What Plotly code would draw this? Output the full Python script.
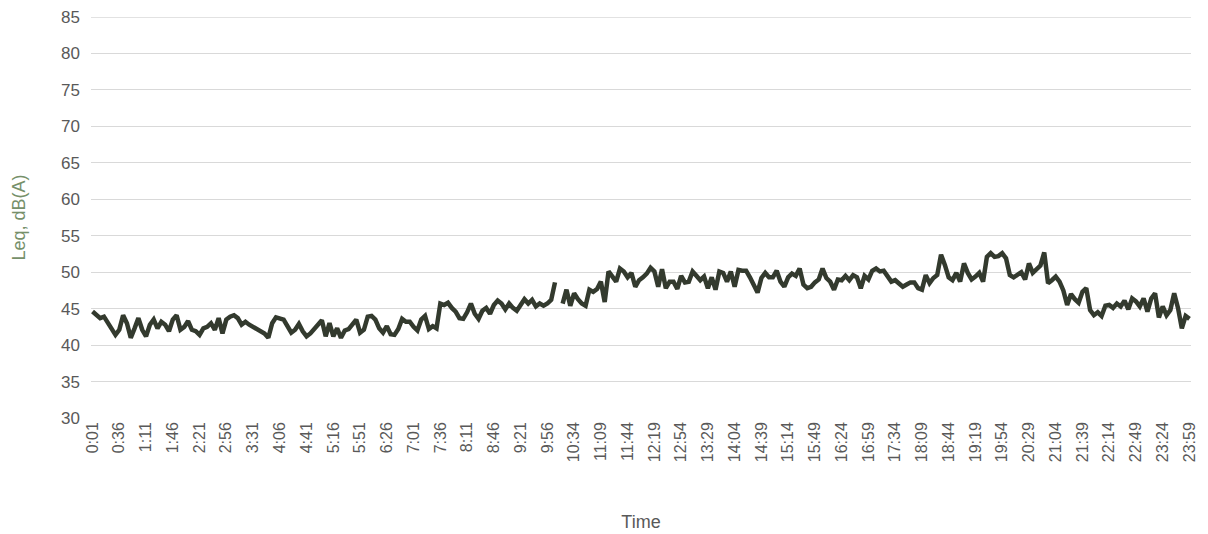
import plotly.graph_objects as go

# tick labels shown on the time axis (every 7th reading)
tick_labels = ["0:01", "0:36", "1:11", "1:46", "2:21", "2:56", "3:31", "4:06", "4:41",
               "5:16", "5:51", "6:26", "7:01", "7:36", "8:11", "8:46", "9:21", "9:56",
               "10:34", "11:09", "11:44", "12:19", "12:54", "13:29", "14:04", "14:39",
               "15:14", "15:49", "16:24", "16:59", "17:34", "18:09", "18:44", "19:19",
               "19:54", "20:29", "21:04", "21:39", "22:14", "22:49", "23:24", "23:59"]

# readings around the missing sample after 10:06
gap_times = ["10:11", "10:19", "10:24", "10:29"]

y_ticks = [30, 35, 40, 45, 50, 55, 60, 65, 70, 75, 80, 85]

leq_db = [
    44.6, 44.1, 43.7, 43.9, 43.0, 42.3, 41.4, 42.1, 44.1, 43.0,
    41.0, 42.3, 43.7, 42.1, 41.2, 42.8, 43.5, 42.3, 43.2, 42.8,
    41.9, 43.5, 44.1, 42.1, 42.5, 43.3, 42.1, 41.9, 41.4, 42.3,
    42.5, 43.0, 42.1, 43.7, 41.6, 43.5, 43.9, 44.1, 43.7, 42.8,
    43.2, 42.8, 42.5, 42.3, 41.9, 41.6, 41.0, 43.0, 43.8, 43.6,
    43.5, 42.6, 41.7, 42.1, 42.9, 41.9, 41.2, 41.6, 42.2, 43.0,
    43.4, 41.2, 43.0, 41.2, 42.3, 41.0, 42.0, 42.2, 42.8, 43.5,
    41.7, 42.1, 43.9, 44.0, 43.5, 42.3, 41.7, 42.6, 41.5, 41.4,
    42.2, 43.6, 43.2, 43.2, 42.5, 42.0, 43.5, 44.0, 42.2, 42.6,
    42.3, 45.7, 45.5, 45.8, 45.1, 44.6, 43.7, 43.6, 44.5, 45.7,
    44.3, 43.6, 44.7, 45.1, 44.3, 45.5, 46.1, 45.7, 44.9, 45.7,
    45.1, 44.7, 45.5, 46.3, 45.7, 46.2, 45.3, 45.7, 45.4, 45.7,
    46.2, 48.6, None, 45.7, 47.6, 45.4, 47.1, 46.3, 45.7, 45.4,
    47.6, 47.3, 47.7, 48.7, 45.9, 50.1, 49.3, 48.7, 50.5, 50.1,
    49.3, 49.9, 48.0, 48.9, 49.3, 49.8, 50.6, 50.1, 48.0, 50.4,
    47.8, 48.7, 48.7, 47.7, 49.5, 48.6, 48.7, 50.1, 49.5, 48.9,
    49.4, 47.8, 49.3, 47.6, 50.1, 49.9, 48.7, 50.1, 48.0, 50.3,
    50.2, 50.2, 49.3, 48.3, 47.2, 49.2, 49.9, 49.3, 49.3, 50.2,
    48.7, 48.0, 49.3, 49.8, 49.5, 50.5, 48.3, 47.8, 48.0, 48.6,
    49.0, 50.5, 49.2, 48.7, 47.6, 49.0, 48.9, 49.5, 48.9, 49.6,
    49.3, 47.8, 49.5, 49.0, 50.2, 50.5, 50.1, 50.2, 49.4, 48.7,
    48.9, 48.4, 48.0, 48.3, 48.6, 48.6, 47.8, 47.6, 49.6, 48.5,
    49.2, 49.6, 52.4, 51.0, 49.3, 48.9, 49.9, 48.7, 51.2, 49.9,
    49.0, 49.4, 49.9, 48.7, 52.1, 52.6, 52.1, 52.2, 52.6, 51.9,
    49.6, 49.3, 49.6, 50.0, 49.0, 51.2, 49.9, 50.5, 50.9, 52.7,
    48.5, 48.9, 49.4, 48.7, 47.5, 45.5, 47.0, 46.3, 45.8, 47.3,
    47.8, 44.8, 44.1, 44.5, 44.0, 45.4, 45.5, 45.1, 45.7, 45.3,
    46.1, 44.9, 46.4, 46.0, 45.3, 46.4, 44.6, 46.4, 47.1, 43.8,
    45.3, 44.1, 44.8, 47.1, 45.1, 42.3, 44.0, 43.6,
]


def hhmm(m):
    return "%d:%02d" % (m // 60, m % 60)


# 5-minute readings: 0:01 .. 10:06, a few irregular ones, then 10:34 .. 23:59
times = [hhmm(1 + 5 * k) for k in range(122)] + gap_times
times += [hhmm(634 + 5 * k) for k in range(162)]

fig = go.Figure()
fig.add_trace(go.Scatter(x=times, y=leq_db, mode="lines",
                         line=dict(color="#333a2e", width=4.5),
                         connectgaps=False, showlegend=False))

# top gridline sits on the plot edge, plotly skips it, so draw it here
fig.add_hline(y=y_ticks[-1], line=dict(color="#d9d9d9", width=1.3), layer="below")

# page body adds an 8px margin, so the figure is sized 8px smaller
fig.update_layout(
    width=1200, height=526,
    margin=dict(l=83, r=17, t=9, b=116),
    paper_bgcolor="white", plot_bgcolor="white",
    font=dict(family="Liberation Sans, Arial, sans-serif", color="#595959"),
)
fig.update_xaxes(
    type="category", range=[-0.4, len(times) - 0.6],
    tickmode="array", tickvals=tick_labels, ticktext=tick_labels,
    tickangle=-90, tickfont=dict(size=16, color="#595959"),
    showgrid=False, showline=False, zeroline=False, ticks="",
    automargin=False,
    title=dict(text="Time", font=dict(size=18, color="#595959"), standoff=54),
)
fig.update_yaxes(
    range=[y_ticks[0], y_ticks[-1]], tickmode="array", tickvals=y_ticks,
    showgrid=True, gridcolor="#d9d9d9", gridwidth=1.3,
    zeroline=False, showline=False, ticks="",
    automargin=False, ticklabelstandoff=10, ticklabeloverflow="allow",
    tickfont=dict(size=17, color="#595959"),
    title=dict(text="Leq, dB(A)", font=dict(size=18, color="#76906a"), standoff=30),
)

fig.write_html("out.html")
